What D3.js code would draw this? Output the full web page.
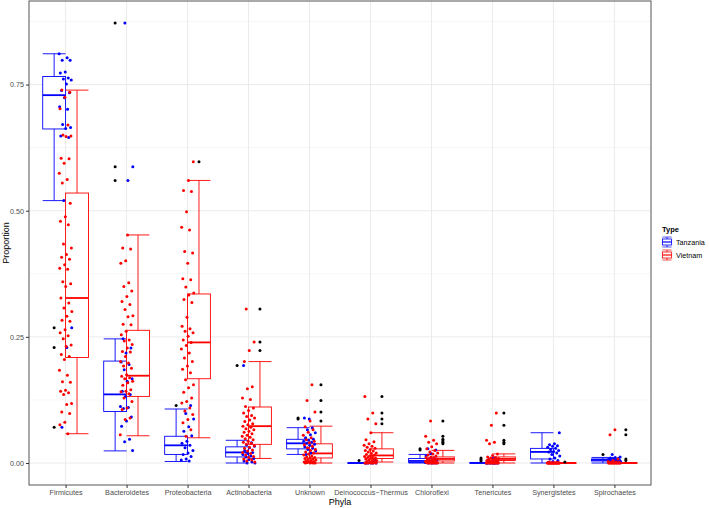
<!DOCTYPE html>
<html><head><meta charset="utf-8">
<script src="https://cdn.jsdelivr.net/npm/d3@7"></script>
<style>body{margin:0;background:#fff}svg{display:block;font-family:"Liberation Sans",Arial,sans-serif}</style>
</head><body><svg id="chart" width="709" height="508"></svg>
<script>
const categories = ["Firmicutes","Bacteroidetes","Proteobacteria","Actinobacteria","Unknown","Deinococcus\u2212Thermus","Chloroflexi","Tenericutes","Synergistetes","Spirochaetes"];
const groups = ["Tanzania","Vietnam"];
const yTicks = [0, 0.25, 0.5, 0.75];
const yTickLabels = ["0.00","0.25","0.50","0.75"];

// box statistics: [lower whisker, Q1, median, Q3, upper whisker]
const tanzaniaBoxes = [
  [0.520,0.662,0.729,0.766,0.811],
  [0.024,0.102,0.136,0.202,0.246],
  [0.003,0.017,0.035,0.053,0.107],
  [0.000,0.012,0.021,0.032,0.045],
  [0.017,0.028,0.039,0.047,0.070],
  [0.000,0.000,0.000,0.000,0.000],
  [0.000,0.001,0.004,0.009,0.017],
  [0.000,0.000,0.000,0.000,0.001],
  [0.000,0.008,0.022,0.029,0.060],
  [0.000,0.004,0.006,0.008,0.011]
];
const vietnamBoxes = [
  [0.058,0.209,0.327,0.535,0.739],
  [0.054,0.132,0.173,0.263,0.452],
  [0.050,0.167,0.239,0.335,0.560],
  [0.009,0.037,0.073,0.111,0.201],
  [0.000,0.010,0.019,0.038,0.073],
  [0.002,0.009,0.015,0.028,0.060],
  [0.000,0.004,0.008,0.012,0.025],
  [0.000,0.005,0.008,0.012,0.018],
  [0.000,0.000,0.000,0.000,0.000],
  [0.000,0.000,0.000,0.000,0.000]
];
const tanzaniaOutliers = [[0.268,0.229,0.071],[0.872,0.587,0.560],[0.114],[0.193],[0.087,0.089],[0.005],[0.028,0.026],[0.010,0.007,0.004],[],[0.017]];
const vietnamOutliers = [[],[],[0.597],[0.305,0.240,0.223],[0.155,0.124,0.101,0.083],[0.132,0.099,0.087,0.078],[0.083,0.053,0.047,0.044,0.041,0.038],[0.099,0.075,0.045,0.041,0.038],[0.002],[0.066,0.056,0.008,0.005]];

const tanzaniaPoints = [
  [0.811,0.803,0.798,0.798,0.775,0.773,0.763,0.761,0.759,0.751,0.738,0.734,0.724,0.706,0.701,0.671,0.665,0.663,0.648,0.645,0.520,0.268,0.229,0.071],
  [0.872,0.587,0.560,0.246,0.228,0.218,0.200,0.195,0.185,0.167,0.162,0.142,0.136,0.132,0.112,0.110,0.108,0.091,0.083,0.073,0.047,0.042,0.025],
  [0.114,0.098,0.087,0.072,0.063,0.054,0.043,0.039,0.035,0.030,0.025,0.020,0.017,0.013,0.008,0.006,0.004],
  [0.193,0.040,0.036,0.033,0.030,0.025,0.021,0.019,0.017,0.014,0.012,0.009,0.007,0.004,0.002,0.000,0.000],
  [0.087,0.089,0.070,0.066,0.060,0.056,0.050,0.047,0.045,0.043,0.041,0.039,0.037,0.035,0.032,0.029,0.027,0.024,0.020,0.017],
  [0.005,0.001,0,0,0,0,0,0],
  [0.028,0.026,0.019,0.014,0.010,0.008,0.006,0.005,0.004,0.003,0.002,0.001,0,0,0,0],
  [0.010,0.007,0.004,0.001,0,0,0,0,0,0,0,0,0,0],
  [0.060,0.038,0.036,0.034,0.033,0.031,0.029,0.027,0.025,0.023,0.022,0.020,0.017,0.014,0.010,0.008,0.005,0.003,0.001],
  [0.017,0.012,0.011,0.010,0.009,0.008,0.007,0.007,0.006,0.006,0.005,0.005,0.004,0.004,0.003,0.002,0.001]
];
const vietnamPoints = [
  [0.739,0.735,0.725,0.702,0.670,0.650,0.648,0.647,0.604,0.603,0.594,0.574,0.562,0.555,0.515,0.488,0.479,0.472,0.434,0.426,0.413,0.408,0.404,0.393,0.386,0.384,0.359,0.355,0.350,0.327,0.317,0.307,0.300,0.291,0.283,0.281,0.264,0.258,0.252,0.246,0.234,0.231,0.215,0.211,0.205,0.184,0.174,0.161,0.160,0.144,0.142,0.139,0.136,0.118,0.116,0.101,0.098,0.081,0.076,0.058],
  [0.452,0.426,0.424,0.401,0.396,0.357,0.350,0.341,0.330,0.320,0.314,0.304,0.292,0.290,0.275,0.274,0.261,0.254,0.244,0.242,0.235,0.228,0.221,0.220,0.211,0.201,0.198,0.192,0.188,0.175,0.172,0.169,0.167,0.162,0.159,0.154,0.145,0.142,0.141,0.137,0.129,0.122,0.109,0.106,0.089,0.086,0.056],
  [0.597,0.560,0.540,0.538,0.498,0.467,0.462,0.419,0.416,0.396,0.365,0.363,0.349,0.337,0.333,0.324,0.318,0.289,0.271,0.266,0.261,0.258,0.251,0.244,0.239,0.233,0.226,0.218,0.208,0.201,0.192,0.186,0.179,0.165,0.155,0.149,0.140,0.129,0.122,0.119,0.109,0.103,0.096,0.086,0.080,0.066,0.053],
  [0.305,0.240,0.223,0.201,0.151,0.147,0.129,0.126,0.112,0.109,0.104,0.099,0.094,0.092,0.089,0.085,0.082,0.078,0.076,0.073,0.071,0.068,0.066,0.063,0.061,0.058,0.055,0.053,0.051,0.048,0.046,0.043,0.041,0.039,0.037,0.034,0.031,0.029,0.026,0.024,0.021,0.019,0.016,0.013,0.011,0.008,0.006,0.004,0.002],
  [0.155,0.124,0.101,0.083,0.072,0.066,0.061,0.055,0.050,0.046,0.043,0.040,0.036,0.033,0.030,0.027,0.025,0.022,0.020,0.018,0.016,0.014,0.012,0.011,0.010,0.009,0.008,0.007,0.006,0.005,0.004,0.003,0.002,0.002,0.001,0.001,0,0,0,0],
  [0.132,0.099,0.087,0.078,0.060,0.046,0.042,0.038,0.035,0.033,0.031,0.029,0.027,0.025,0.024,0.022,0.020,0.019,0.017,0.016,0.014,0.013,0.012,0.011,0.010,0.009,0.008,0.007,0.006,0.005,0.004,0.003,0.002,0.001,0,0,0,0,0,0],
  [0.083,0.053,0.045,0.041,0.038,0.032,0.028,0.025,0.022,0.020,0.018,0.016,0.014,0.012,0.011,0.010,0.009,0.008,0.007,0.006,0.005,0.004,0.003,0.003,0.002,0.002,0.001,0.001,0,0,0,0,0,0,0],
  [0.099,0.075,0.045,0.041,0.038,0.018,0.015,0.012,0.011,0.010,0.009,0.008,0.007,0.006,0.005,0.005,0.004,0.003,0.003,0.002,0.002,0.001,0.001,0,0,0,0,0,0,0,0,0,0],
  [0.002,0.001,0,0,0,0,0,0,0,0,0,0,0,0,0,0,0,0,0,0,0,0,0],
  [0.066,0.056,0.008,0.005,0.003,0.002,0.001,0.001,0,0,0,0,0,0,0,0,0,0,0,0,0]
];

const colors = {Tanzania: "#0000FF", Vietnam: "#FF0000"};
const boxesByGroup = {Tanzania: tanzaniaBoxes, Vietnam: vietnamBoxes};
const outliersByGroup = {Tanzania: tanzaniaOutliers, Vietnam: vietnamOutliers};
const pointsByGroup = {Tanzania: tanzaniaPoints, Vietnam: vietnamPoints};

const svg = d3.select("#chart");
const P = {left: 29, right: 651, top: 1, bottom: 485};

const x = d3.scalePoint().domain(categories).range([P.left, P.right]).padding(0.6);
const step = x.step();
const y = d3.scaleLinear().domain([-0.0436, 0.9156]).range([P.bottom, P.top]);
const dodge = d3.scaleBand().domain(groups).range([-0.375 * step, 0.375 * step]).padding(0);
const bw = dodge.bandwidth();

// panel
svg.append("rect").attr("x", P.left).attr("y", P.top).attr("width", P.right - P.left).attr("height", P.bottom - P.top).attr("fill", "#fff");
const grid = svg.append("g");
const minor = [0.125, 0.375, 0.625, 0.875];
grid.selectAll(".mn").data(minor).join("line").attr("x1", P.left).attr("x2", P.right)
  .attr("y1", d => y(d)).attr("y2", d => y(d)).attr("stroke", "#F2F2F2").attr("stroke-width", 0.6);
grid.selectAll(".mj").data(yTicks).join("line").attr("x1", P.left).attr("x2", P.right)
  .attr("y1", d => y(d)).attr("y2", d => y(d)).attr("stroke", "#EBEBEB").attr("stroke-width", 1);
grid.selectAll(".vx").data(categories).join("line").attr("y1", P.top).attr("y2", P.bottom)
  .attr("x1", d => x(d)).attr("x2", d => x(d)).attr("stroke", "#EBEBEB").attr("stroke-width", 1);

// boxplots
const bp = svg.append("g");
groups.forEach(g => {
  const col = colors[g];
  categories.forEach((c, i) => {
    const s = boxesByGroup[g][i];
    const cx = x(c) + dodge(g) + bw / 2;
    const x0 = cx - bw / 2, x1 = cx + bw / 2;
    // errorbar whisker
    bp.append("line").attr("x1", cx).attr("x2", cx).attr("y1", y(s[0])).attr("y2", y(s[4])).attr("stroke", col).attr("stroke-width", 0.9);
    bp.append("line").attr("x1", x0).attr("x2", x1).attr("y1", y(s[0])).attr("y2", y(s[0])).attr("stroke", col).attr("stroke-width", 0.9);
    bp.append("line").attr("x1", x0).attr("x2", x1).attr("y1", y(s[4])).attr("y2", y(s[4])).attr("stroke", col).attr("stroke-width", 0.9);
    // box
    bp.append("rect").attr("x", x0).attr("width", bw).attr("y", y(s[3])).attr("height", Math.max(0, y(s[1]) - y(s[3])))
      .attr("fill", "#fff").attr("stroke", col).attr("stroke-width", 0.9);
    bp.append("line").attr("x1", x0).attr("x2", x1).attr("y1", y(s[2])).attr("y2", y(s[2])).attr("stroke", col).attr("stroke-width", 1.8);
    // outliers
    bp.selectAll(null).data(outliersByGroup[g][i]).join("circle")
      .attr("cx", cx).attr("cy", d => y(d)).attr("r", 1.5).attr("fill", "#000");
  });
});

// jittered points (deterministic spread)
const pts = svg.append("g");
const jw = 0.105 * step;
groups.forEach((g, gi) => {
  categories.forEach((c, i) => {
    const vals = pointsByGroup[g][i];
    pts.selectAll(null).data(vals).join("circle")
      .attr("cx", (d, k) => x(c) + (((k * 0.6180339887 + i * 0.37 + gi * 0.21) % 1) * 2 - 1) * jw)
      .attr("cy", d => y(d)).attr("r", 1.5).attr("fill", colors[g]);
  });
});

// panel border
svg.append("rect").attr("x", P.left).attr("y", P.top).attr("width", P.right - P.left).attr("height", P.bottom - P.top)
  .attr("fill", "none").attr("stroke", "#555").attr("stroke-width", 1);

// axes
const yAxis = d3.axisLeft(y).tickValues(yTicks).tickFormat((d, i) => yTickLabels[i]).tickSize(3).tickPadding(2);
const gy = svg.append("g").attr("transform", `translate(${P.left},0)`).call(yAxis);
gy.select(".domain").remove();
gy.selectAll("line").attr("stroke", "#333");
gy.selectAll("text").attr("font-size", 7.2).attr("fill", "#4D4D4D").attr("font-family", "Liberation Sans, Arial, sans-serif");

const xAxis = d3.axisBottom(x).tickSize(3).tickPadding(2);
const gx = svg.append("g").attr("transform", `translate(0,${P.bottom})`).call(xAxis);
gx.select(".domain").remove();
gx.selectAll("line").attr("stroke", "#333");
gx.selectAll("text").attr("font-size", 7.2).attr("fill", "#4D4D4D").attr("font-family", "Liberation Sans, Arial, sans-serif");

svg.append("text").attr("x", (P.left + P.right) / 2).attr("y", 505).attr("text-anchor", "middle")
  .attr("font-size", 9).attr("fill", "#000").text("Phyla");
svg.append("text").attr("transform", `translate(9,${(P.top + P.bottom) / 2}) rotate(-90)`).attr("text-anchor", "middle")
  .attr("font-size", 9).attr("fill", "#000").text("Proportion");

// legend
const lg = svg.append("g").attr("transform", "translate(661,224)");
lg.append("text").attr("x", 1).attr("y", 8).attr("font-size", 7.5).attr("font-weight", "bold").text("Type");
groups.forEach((g, i) => {
  const gy0 = 12 + i * 13;
  const k = lg.append("g").attr("transform", `translate(0,${gy0})`);
  k.append("rect").attr("width", 12).attr("height", 12).attr("fill", "#F2F2F2").attr("stroke", "#fff").attr("stroke-width", 0.6);
  k.append("line").attr("x1", 6).attr("x2", 6).attr("y1", 1).attr("y2", 11).attr("stroke", colors[g]).attr("stroke-width", 0.8);
  k.append("rect").attr("x", 1.5).attr("y", 3).attr("width", 9).attr("height", 6).attr("fill", "#fff").attr("stroke", colors[g]).attr("stroke-width", 0.8);
  k.append("line").attr("x1", 1.5).attr("x2", 10.5).attr("y1", 6).attr("y2", 6).attr("stroke", colors[g]).attr("stroke-width", 1.2);
  k.append("line").attr("x1", 1.5).attr("x2", 10.5).attr("y1", 1).attr("y2", 1).attr("stroke", colors[g]).attr("stroke-width", 0.6);
  k.append("line").attr("x1", 1.5).attr("x2", 10.5).attr("y1", 11).attr("y2", 11).attr("stroke", colors[g]).attr("stroke-width", 0.6);
  lg.append("text").attr("x", 15).attr("y", gy0 + 8.8).attr("font-size", 7.2).attr("fill", "#000").text(g);
});
</script></body></html>
